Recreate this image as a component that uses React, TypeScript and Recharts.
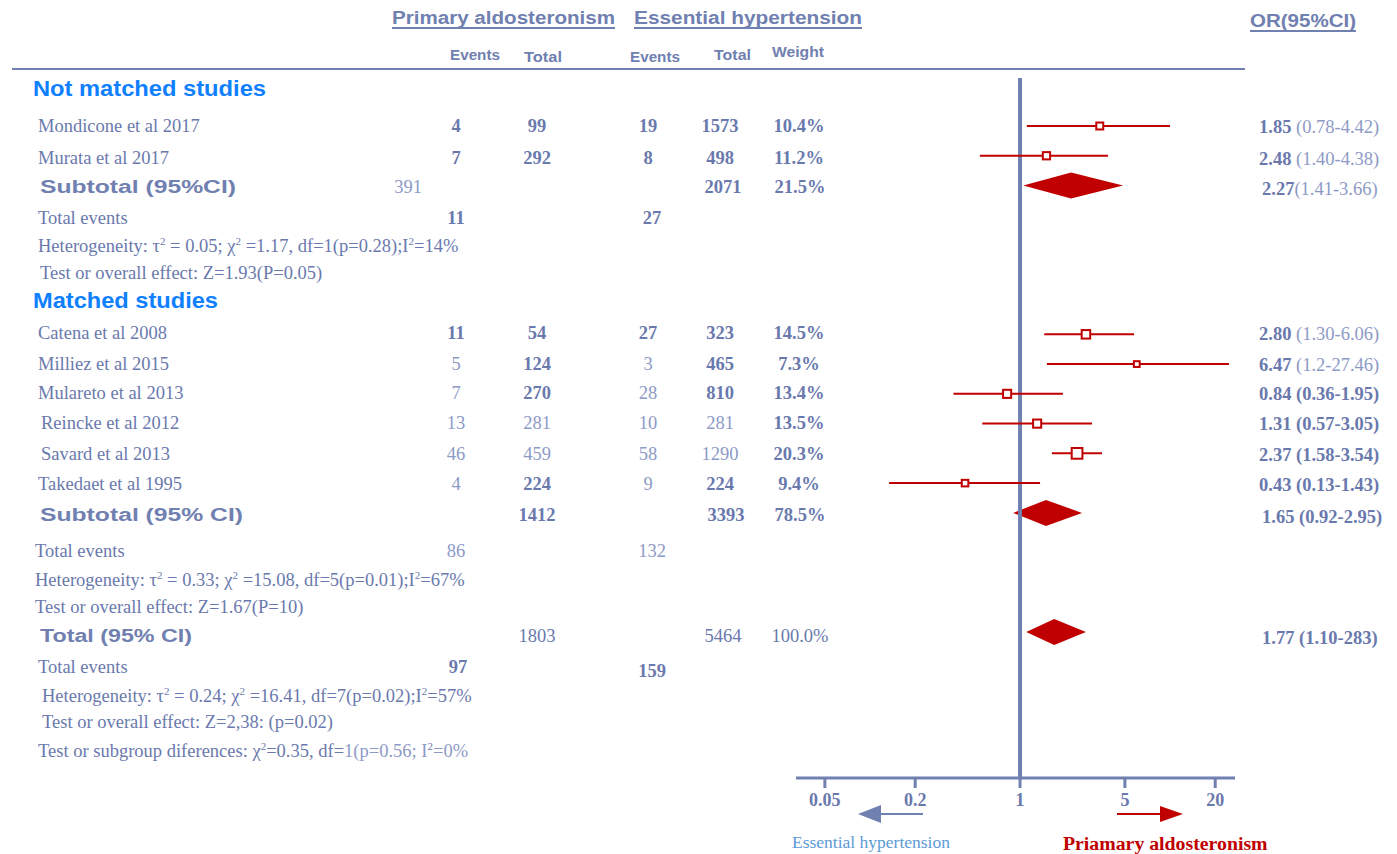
import { ComposedChart, Scatter, Area, XAxis, YAxis, ErrorBar, ReferenceLine } from 'recharts';

// study level data
const studies = [
  'Mondicone et al 2017',
  'Murata et al 2017',
  'Catena et al 2008',
  'Milliez et al 2015',
  'Mulareto et al 2013',
  'Reincke et al 2012',
  'Savard et al 2013',
  'Takedaet et al 1995',
];
const studyRows = [0, 1, 7, 8, 9, 10, 11, 12];
const paEvents = [4, 7, 11, 5, 7, 13, 46, 4];
const paTotal = [99, 292, 54, 124, 270, 281, 459, 224];
const ehEvents = [19, 8, 27, 3, 28, 10, 58, 9];
const ehTotal = [1573, 498, 323, 465, 810, 281, 1290, 224];
const weights = [10.4, 11.2, 14.5, 7.3, 13.4, 13.5, 20.3, 9.4];
const orLabels = ['1.85', '2.48', '2.80', '6.47', '0.84', '1.31', '2.37', '0.43'];
const ciLabels = ['(0.78-4.42)', '(1.40-4.38)', '(1.30-6.06)', '(1.2-27.46)', '(0.36-1.95)', '(0.57-3.05)', '(1.58-3.54)', '(0.13-1.43)'];
// where the marks sit on the plot
const plotEst = [3.4, 1.5, 2.75, 6.0, 0.82, 1.3, 2.4, 0.43];
const plotLow = [1.11, 0.54, 1.45, 1.51, 0.36, 0.56, 1.63, 0.134];
const plotHigh = [10.0, 3.86, 5.75, 24.7, 1.93, 3.02, 3.52, 1.36];

// pooled rows
const pooledLabels = ['Subtotal (95%CI)', 'Subtotal (95% CI)', 'Total (95% CI)'];
const pooledRows = [2, 13, 17];
const pooledPaTotal = [391, 1412, 1803];
const pooledEhTotal = [2071, 3393, 5464];
const pooledWeight = ['21.5%', '78.5%', '100.0%'];
const pooledOr = ['2.27', '1.65', '1.77'];
const pooledCi = ['(1.41-3.66)', '(0.92-2.95)', '(1.10-283)'];
const pooledLow = [1.05, 0.9, 1.1];
const pooledEst = [2.19, 1.49, 1.69];
const pooledHigh = [4.86, 2.59, 2.75];

// summary lines
const totalEventsRows = [3, 14, 18];
const totalEventsPa = [11, 86, 97];
const totalEventsEh = [27, 132, 159];
const hetRows = [4, 15, 19];
const hetTau = ['0.05', '0.33', '0.24'];
const hetChi = ['1.17', '15.08', '16.41'];
const hetDf = ['1(p=0.28)', '5(p=0.01)', '7(p=0.02)'];
const hetI2 = ['14%', '67%', '57%'];
const effectRows = [5, 16, 20];
const effectLabels = ['Z=1.93(P=0.05)', 'Z=1.67(P=10)', 'Z=2,38: (p=0.02)'];

const xTicks = [0.05, 0.2, 1, 5, 20];

// layout / style
const W = 1397;
const H = 854;
const ROW0 = 126;
const ROW_H = 29.76;
const PLOT_TOP = 78;
const PLOT_BOTTOM = 778;
const textRowY = [126, 158, 187, 218, 246, 273, 300, 333, 364, 393, 423, 454, 484, 515, 551, 580, 607, 636, 667, 696, 722, 751];
const DIAMOND_H = 13 / ROW_H;

const SERIF = '"Liberation Serif", "Times New Roman", serif';
const SANS = '"Liberation Sans", Arial, sans-serif';
const FS = 18.5;
const DARK = '#6a79ad';
const LIGHT = '#8d9ac6';
const AXIS = '#7080b0';
const RED = '#c00000';
const BLUE = '#0f80ff';

const COL = { ev1: 456, tot1: 537, ev2: 648, tot2: 720, wt: 799 };
const lightStudyCols: Record<number, string[]> = {
  3: ['ev1', 'ev2'],
  4: ['ev1', 'ev2'],
  5: ['ev1', 'tot1', 'ev2', 'tot2'],
  6: ['ev1', 'tot1', 'ev2', 'tot2'],
  7: ['ev1', 'ev2'],
};
const lightCi = [true, true, true, true, false, false, false, false];

const studyData = studies.map((s, i) => ({
  name: s,
  x: plotEst[i],
  y: studyRows[i],
  w: weights[i],
  err: [plotEst[i] - plotLow[i], plotHigh[i] - plotEst[i]],
}));

const diamonds = pooledRows.map((r, i) => [
  { x: pooledLow[i], range: [r, r] },
  { x: pooledEst[i], range: [r - DIAMOND_H, r + DIAMOND_H] },
  { x: pooledHigh[i], range: [r, r] },
]);

const Box = (props: any) => {
  const { cx, cy, payload } = props;
  const s = 3 + 0.38 * payload.w;
  return <rect x={cx - s / 2} y={cy - s / 2} width={s} height={s} fill="#fff" stroke={RED} strokeWidth={2} />;
};

const base = (row: number) => textRowY[row] + 6;

type Part = string | { sup: string } | { light: string };

// text run with superscripts
function Rich({ parts }: { parts: Part[] }) {
  let prevSup = false;
  return (
    <>
      {parts.map((p, k) => {
        const dy = prevSup ? 7 : 0;
        if (typeof p === 'string') {
          prevSup = false;
          return <tspan key={k} dy={dy || undefined}>{p}</tspan>;
        }
        if ('sup' in p) {
          prevSup = true;
          return <tspan key={k} dy={-7} fontSize={11}>{p.sup}</tspan>;
        }
        prevSup = false;
        return <tspan key={k} dy={dy || undefined} fill={LIGHT}>{p.light}</tspan>;
      })}
    </>
  );
}

function Head({ x, y, w, size, children, fill = AXIS, anchor = 'start' }: any) {
  return (
    <text x={x} y={y} fontFamily={SANS} fontWeight={700} fontSize={size} fill={fill}
      textLength={w} lengthAdjust="spacingAndGlyphs" textAnchor={anchor}>{children}</text>
  );
}

function Overlay() {
  const num = (x: number, y: number, v: string | number, light: boolean, key: string, bold = !light) => (
    <text key={key} x={x} y={y} textAnchor="middle" fontFamily={SERIF} fontSize={FS}
      fontWeight={bold ? 700 : 400} fill={light ? LIGHT : DARK}>{v}</text>
  );
  return (
    <svg width={W} height={H} style={{ position: 'absolute', left: 0, top: 0, pointerEvents: 'none' }}>
      {/* headers */}
      <Head x={392} y={24} w={223} size={18}>Primary aldosteronism</Head>
      <line x1={392} x2={615} y1={28} y2={28} stroke={AXIS} strokeWidth={2} />
      <Head x={634} y={24} w={228} size={18}>Essential hypertension</Head>
      <line x1={634} x2={862} y1={28} y2={28} stroke={AXIS} strokeWidth={2} />
      <Head x={1250} y={27} w={106} size={18}>OR(95%CI)</Head>
      <line x1={1250} x2={1356} y1={31} y2={31} stroke={AXIS} strokeWidth={2} />
      <Head x={450} y={60} w={50} size={14}>Events</Head>
      <Head x={524} y={62} w={38} size={14}>Total</Head>
      <Head x={630} y={62} w={50} size={14}>Events</Head>
      <Head x={714} y={60} w={37} size={14}>Total</Head>
      <Head x={772} y={57} w={52} size={14}>Weight</Head>
      <line x1={12} x2={1245} y1={69} y2={69} stroke={AXIS} strokeWidth={2} />

      <Head x={33} y={96} w={233} size={22} fill={BLUE}>Not matched studies</Head>
      <Head x={33} y={308} w={185} size={22} fill={BLUE}>Matched studies</Head>

      {/* studies */}
      {studies.map((s, i) => {
        const y = base(studyRows[i]);
        const lc = lightStudyCols[i] || [];
        return (
          <g key={s}>
            <text x={i === 5 || i === 6 ? 41 : 38} y={y} fontFamily={SERIF} fontSize={FS} fill={DARK}>{s}</text>
            {num(COL.ev1, y, paEvents[i], lc.includes('ev1'), 'a')}
            {num(COL.tot1, y, paTotal[i], lc.includes('tot1'), 'b')}
            {num(COL.ev2, y, ehEvents[i], lc.includes('ev2'), 'c')}
            {num(COL.tot2, y, ehTotal[i], lc.includes('tot2'), 'd')}
            {num(COL.wt, y, weights[i].toFixed(1) + '%', false, 'e')}
            <text x={1259} y={y + 1} fontFamily={SERIF} fontSize={FS} fill={DARK}>
              <tspan fontWeight={700}>{orLabels[i]}</tspan>
              <tspan fontWeight={lightCi[i] ? 400 : 700} fill={lightCi[i] ? LIGHT : DARK}>{' ' + ciLabels[i]}</tspan>
            </text>
          </g>
        );
      })}

      {/* pooled */}
      {pooledLabels.map((s, i) => {
        const y = base(pooledRows[i]);
        const lw = [196, 203, 152][i];
        return (
          <g key={s}>
            <Head x={40} y={y} w={lw} size={18}>{s}</Head>
            {num(i === 0 ? 408 : COL.tot1, y, pooledPaTotal[i], i === 0, 'a', i === 1)}
            {num(i === 1 ? 726 : COL.tot2 + 3, y, pooledEhTotal[i], false, 'b', i !== 2)}
            {num(COL.wt + 1, y, pooledWeight[i], false, 'c', i !== 2)}
            <text x={1262} y={y + 2} fontFamily={SERIF} fontSize={FS} fill={DARK}>
              <tspan fontWeight={700}>{pooledOr[i]}</tspan>
              <tspan fontWeight={i === 0 ? 400 : 700} fill={i === 0 ? LIGHT : DARK}>{(i === 0 ? '' : ' ') + pooledCi[i]}</tspan>
            </text>
          </g>
        );
      })}

      {/* totals and tests */}
      <g fontFamily={SERIF} fontSize={FS} fill={DARK}>
        {totalEventsRows.map((r, i) => (
          <g key={'te' + r}>
            <text x={i === 1 ? 35 : 38} y={base(r)}>Total events</text>
            {num(i === 2 ? 458 : COL.ev1, base(r), totalEventsPa[i], i === 1, 'a')}
            {num(652, base(r) + (i === 2 ? 4 : 0), totalEventsEh[i], i === 1, 'b')}
          </g>
        ))}
        {hetRows.map((r, i) => (
          <text key={'h' + r} x={i === 2 ? 42 : i === 1 ? 35 : 38} y={base(r)}>
            <Rich parts={['Heterogeneity: τ', { sup: '2' }, ' = ' + hetTau[i] + '; χ', { sup: '2' },
              ' =' + hetChi[i] + ', df=' + hetDf[i] + ';I', { sup: '2' }, '=' + hetI2[i]]} />
          </text>
        ))}
        {effectRows.map((r, i) => (
          <text key={'e' + r} x={i === 2 ? 42 : i === 1 ? 35 : 40} y={base(r)}>
            Test or overall effect: {effectLabels[i]}
          </text>
        ))}
        <text x={38} y={base(21)}>
          <Rich parts={['Test or subgroup diferences: χ', { sup: '2' }, '=0.35, df=', { light: '1(p=0.56; I' },
            { sup: '2' }, { light: '=0%' }]} />
        </text>
      </g>

      {/* direction arrows */}
      <line x1={923} x2={876} y1={814} y2={814} stroke={AXIS} strokeWidth={2} />
      <polygon points="858,814 881,805 881,823" fill={AXIS} />
      <line x1={1117} x2={1165} y1={814} y2={814} stroke={RED} strokeWidth={2} />
      <polygon points="1183,814 1160,806 1160,822" fill={RED} />
      <text x={792} y={848} fontFamily={SERIF} fontSize={17.5} fill="#5b9bd5">Essential hypertension</text>
      <text x={1063} y={850} fontFamily={SERIF} fontSize={19.8} fontWeight={700} fill={RED}>Priamary aldosteronism</text>
    </svg>
  );
}

export default function App() {
  const yTop = (PLOT_TOP - ROW0) / ROW_H;
  const yBottom = (PLOT_BOTTOM - ROW0) / ROW_H;
  return (
    <div style={{ position: 'absolute', left: 0, top: 0, width: W, height: H, background: '#fff' }}>
      <ComposedChart width={W} height={H} margin={{ top: PLOT_TOP, right: 162, bottom: H - PLOT_BOTTOM - 30, left: 796 }}>
        <XAxis
          dataKey="x"
          type="number"
          scale="log"
          domain={[0.0321, 27.1]}
          allowDataOverflow
          ticks={xTicks}
          height={30}
          tickSize={10}
          tickMargin={5}
          axisLine={{ stroke: AXIS, strokeWidth: 3 }}
          tickLine={{ stroke: AXIS, strokeWidth: 3 }}
          tick={{ fill: DARK, fontFamily: SERIF, fontSize: 18, fontWeight: 700 }}
        />
        <YAxis dataKey="y" type="number" domain={[yTop, yBottom]} reversed hide allowDataOverflow />
        <ReferenceLine x={1} stroke={AXIS} strokeWidth={4} />
        {diamonds.map((d, i) => (
          <Area
            key={i}
            data={d}
            dataKey="range"
            type="linear"
            stroke="none"
            fill={RED}
            fillOpacity={1}
            isAnimationActive={false}
            dot={false}
            activeDot={false}
          />
        ))}
        <Scatter data={studyData} shape={Box} isAnimationActive={false}>
          <ErrorBar dataKey="err" direction="x" width={0} stroke={RED} strokeWidth={2} />
        </Scatter>
      </ComposedChart>
      <Overlay />
    </div>
  );
}
